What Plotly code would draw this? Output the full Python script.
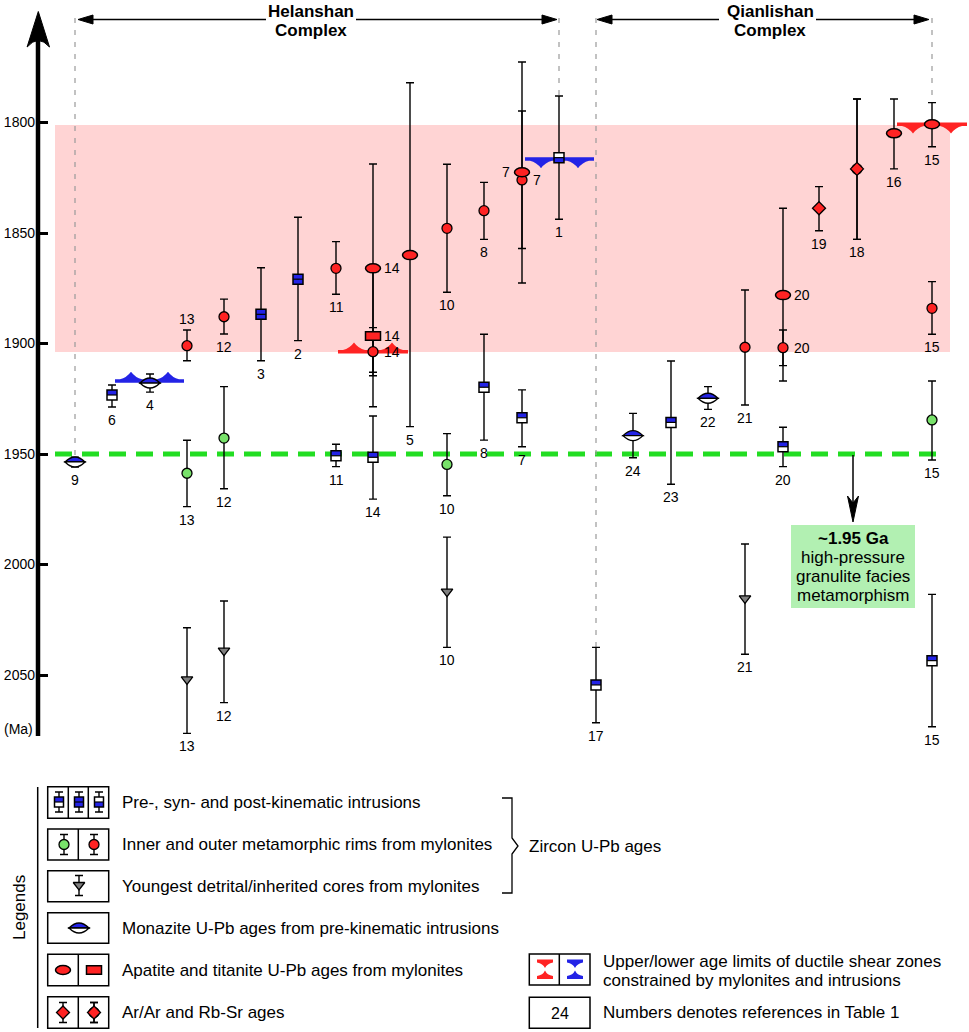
import plotly.graph_objects as go

W, H = 969, 1032
FONT = "Liberation Sans, Arial, sans-serif"

# the whole page is one age column: 1744.6 Ma at the top edge, 2211.5 Ma at the bottom
Y_TOP, Y_BOT = 1744.57, 2211.54
K = H / (Y_BOT - Y_TOP)          # pixels per Ma

RED = "#ff2323"
BLUE = "#2323e6"
GREEN = "#78e26a"
GREY = "#7f7f7f"

# ---------------- data (ages in Ma, x = sample column) ----------------
# zircon U-Pb ages of pre-, syn- and post-kinematic intrusions
intr_ref = ["6", "3", "2", "11", "14", "8", "7", "1", "17", "23", "20", "15"]
intr_x = [112, 261, 298, 336, 373, 484, 522, 559, 596, 671, 783, 932]
intr_age = [1923.3, 1886.8, 1870.9, 1950.8, 1951.5, 1919.8, 1933.6, 1815.9, 2054.5, 1935.7, 1946.7, 2043.5]
intr_lo = [1918.8, 1865.7, 1842.9, 1945.6, 1932.8, 1895.8, 1921.0, 1788.0, 2037.5, 1907.9, 1937.9, 2013.5]
intr_hi = [1928.7, 1907.8, 1898.7, 1955.7, 1970.4, 1943.7, 1946.7, 1843.8, 2071.6, 1963.7, 1955.7, 2073.4]
intr_kind = ["pre", "syn", "syn", "pre", "pre", "pre", "pre", "post", "pre", "pre", "pre", "pre"]

# outer metamorphic rims from mylonites
outer_ref = ["13", "12", "11", "14", "10", "8", "7", "21", "20", "15"]
outer_x = [187, 224, 336, 373, 447, 484, 522, 745, 783, 932]
outer_age = [1901.0, 1887.9, 1866.0, 1903.7, 1847.9, 1839.9, 1826.0, 1901.7, 1901.9, 1884.1]
outer_lo = [1893.9, 1879.9, 1853.9, 1892.8, 1818.9, 1827.1, 1794.8, 1875.8, 1893.9, 1872.0]
outer_hi = [1907.8, 1895.7, 1877.7, 1914.6, 1876.8, 1852.9, 1857.0, 1927.8, 1910.0, 1895.8]
outer_lab = ["above", "below", "below", "right", "below", "below", "right", "below", "right", "below"]

# inner metamorphic rims from mylonites
inner_ref = ["13", "12", "10", "15"]
inner_x = [187, 224, 447, 932]
inner_age = [1958.7, 1942.8, 1954.7, 1934.6]
inner_lo = [1943.8, 1919.5, 1940.8, 1917.0]
inner_hi = [1973.8, 1965.7, 1968.9, 1952.7]

# youngest detrital / inherited cores
core_ref = ["13", "12", "10", "21"]
core_x = [187, 224, 447, 745]
core_age = [2052.0, 2039.0, 2012.3, 2015.3]
core_lo = [2028.6, 2016.5, 1987.6, 1990.7]
core_hi = [2076.4, 2062.5, 2037.5, 2040.6]

# monazite U-Pb ages of pre-kinematic intrusions
mnz_ref = ["9", "4", "24", "22"]
mnz_x = [75, 150, 633, 708]
mnz_age = [1953.6, 1917.9, 1941.7, 1924.8]
mnz_lo = [1951.4, 1913.8, 1931.6, 1919.5]
mnz_hi = [1955.9, 1922.0, 1951.7, 1929.8]

# apatite U-Pb ages from mylonites
ap_ref = ["14", "5", "7", "20", "16", "15"]
ap_x = [373, 410, 522, 783, 894, 932]
ap_age = [1866.0, 1860.0, 1822.5, 1878.1, 1804.9, 1800.8]
ap_lo = [1818.8, 1782.0, 1772.6, 1838.8, 1789.4, 1791.0]
ap_hi = [1913.0, 1937.6, 1872.6, 1917.0, 1821.0, 1811.0]
ap_lab = ["right", "below", "left", "right", "below", "below"]

# titanite U-Pb ages from mylonites
ttn_ref = ["14"]
ttn_x = [373]
ttn_age = [1896.6]
ttn_lo = [1865.0]
ttn_hi = [1928.6]

# Ar/Ar and Rb-Sr ages
ar_ref, ar_x, ar_age, ar_lo, ar_hi = ["19"], [819], [1838.8], [1829.0], [1849.0]
rb_ref, rb_x, rb_age, rb_lo, rb_hi = ["18"], [857], [1821.0], [1789.4], [1852.9]

# age limits of the ductile shear zones
shear_x0 = [115, 338, 525, 897]
shear_x1 = [184, 408, 594, 967]
shear_age = [1917.0, 1903.7, 1816.5, 1800.8]
shear_col = ["blue", "red", "blue", "red"]
shear_dir = ["up", "up", "down", "down"]

# shear-zone age window and the ~1.95 Ga metamorphic event
band_age = [1801.1, 1903.8]
band_x = [55, 950]
hp_age = 1950

y_ticks = [1800, 1850, 1900, 1950, 2000, 2050]

# ---------------------------------------------------------------------
fig = go.Figure()
shapes = []
notes = []


def errbar(age, lo, hi):
    return dict(type="data", symmetric=False,
                array=[h - a for a, h in zip(age, hi)],
                arrayminus=[a - l for a, l in zip(age, lo)],
                color="black", thickness=1.4, width=4)


def marks(x, age, lo, hi, marker=None, yaxis="y"):
    if marker is None:
        marker = dict(size=1, color="rgba(0,0,0,0)")
    fig.add_trace(go.Scatter(x=x, y=age, mode="markers", marker=marker,
                             error_y=errbar(age, lo, hi), yaxis=yaxis,
                             hoverinfo="skip", showlegend=False))


def dot(color, symbol="circle", size=10):
    return dict(symbol=symbol, size=size, color=color, line=dict(color="black", width=1.3))


def split_square(x, y, kind, yref="y", k=K, hw=5, hh=5):
    top, bot = {"pre": (BLUE, "white"), "syn": (BLUE, BLUE), "post": ("white", BLUE)}[kind]
    d = hh / k
    base = dict(type="rect", xref="x", yref=yref, layer="above")
    shapes.append(dict(base, x0=x - hw, x1=x + hw, y0=y - d, y1=y, fillcolor=top, line=dict(width=0)))
    shapes.append(dict(base, x0=x - hw, x1=x + hw, y0=y, y1=y + d, fillcolor=bot, line=dict(width=0)))
    shapes.append(dict(type="line", xref="x", yref=yref, layer="above", x0=x - hw, x1=x + hw,
                       y0=y, y1=y, line=dict(color="black", width=1.2)))
    shapes.append(dict(base, x0=x - hw, x1=x + hw, y0=y - d, y1=y + d,
                       fillcolor="rgba(0,0,0,0)", line=dict(color="black", width=1.5)))


def lens(x, y, yref="y", k=K, hw=10, hh=5):
    # monazite: upper half blue, lower half white
    d = 2 * hh / k
    for sgn, col in ((-1, BLUE), (1, "white")):
        shapes.append(dict(type="path", xref="x", yref=yref, layer="above",
                           path=f"M{x - hw},{y} Q{x},{y + sgn * d} {x + hw},{y} Z",
                           fillcolor=col, line=dict(color="black", width=1.3)))


def ellipse(x, y, yref="y", k=K, hw=7.5, hh=4.5):
    shapes.append(dict(type="circle", xref="x", yref=yref, layer="above",
                       x0=x - hw, x1=x + hw, y0=y - hh / k, y1=y + hh / k,
                       fillcolor=RED, line=dict(color="black", width=1.5)))


def red_rect(x, y, yref="y", k=K, hw=7.5, hh=4.3):
    shapes.append(dict(type="rect", xref="x", yref=yref, layer="above",
                       x0=x - hw, x1=x + hw, y0=y - hh / k, y1=y + hh / k,
                       fillcolor=RED, line=dict(color="black", width=1.5)))


def shear(x0, x1, y, col, direction, k=K, th=3.5, hh=7.5, hw=11, inset=16):
    t, h = th / 2 / k, hh / k
    top, bot = y - t, y + t
    cs = [x0 + inset, x1 - inset]
    if direction == "up":
        edge, s = top, -1
        p = f"M{x0},{bot} L{x1},{bot} L{x1},{top}"
    else:
        edge, s = bot, 1
        p = f"M{x0},{top} L{x1},{top} L{x1},{bot}"
    for c in reversed(cs):
        p += (f" L{c + hw},{edge} Q{c + 0.4 * hw},{edge + s * 0.2 * h} {c},{edge + s * h}"
              f" Q{c - 0.4 * hw},{edge + s * 0.2 * h} {c - hw},{edge}")
    p += f" L{x0},{edge} Z"
    shapes.append(dict(type="path", xref="x", yref="y", layer="below", path=p,
                       fillcolor=col, line=dict(width=0)))


def label(x, y, s, where):
    d = dict(x=x, y=y, xref="x", yref="y", text=s, showarrow=False,
             font=dict(size=14, color="black", family=FONT), yanchor="middle")
    if where == "below":
        d.update(yshift=-13)
    elif where == "above":
        d.update(yshift=11)
    elif where == "right":
        d.update(xshift=9, xanchor="left")
    elif where == "left":
        d.update(xshift=-10, xanchor="right")
    notes.append(d)


def text(x, y, s, size=17, xanchor="center", **kw):
    notes.append(dict(x=x, y=y, xref="x", yref="y2", text=s, showarrow=False,
                      font=dict(size=size, color="black", family=FONT),
                      xanchor=xanchor, yanchor="middle", **kw))


def pix(kind, **kw):
    d = dict(type=kind, xref="x", yref="y2")
    d.update(kw)
    shapes.append(d)


def head(x, y, dx, dy, length=15, half=4.5):
    # filled arrow head with its tip at (x, y) pointing along (dx, dy)
    bx, by = x - dx * length, y - dy * length
    px, py = -dy * half, dx * half
    pix("path", path=f"M{x},{y} L{bx + px},{by + py} L{bx - px},{by - py} Z",
        fillcolor="black", line=dict(color="black", width=1))


# ---- background: age window of the shear zones, ~1.95 Ga event ----
shapes.append(dict(type="rect", xref="x", yref="y", layer="below", x0=band_x[0], x1=band_x[1],
                   y0=band_age[0], y1=band_age[1], fillcolor="#ffd4d4", line=dict(width=0)))
shapes.append(dict(type="line", xref="x", yref="y", layer="below", x0=band_x[0], x1=band_x[1] - 5,
                   y0=hp_age, y1=hp_age, line=dict(color="#22dd22", width=5, dash="17px,10px")))

# complex boundaries (dashed guides down to the bounding samples)
head_age = Y_TOP + 18 / K
for gx, gy in ((mnz_x[0], mnz_lo[0]), (559, intr_lo[7]), (596, intr_lo[8]), (932, ap_lo[5])):
    shapes.append(dict(type="line", xref="x", yref="y", layer="below", x0=gx, x1=gx,
                       y0=head_age, y1=gy, line=dict(color="#9a9a9a", width=1.2, dash="5px,7px")))

for x0, x1, y, c, dr in zip(shear_x0, shear_x1, shear_age, shear_col, shear_dir):
    shear(x0, x1, y, {"blue": BLUE, "red": RED}[c], dr)

# ---- error bars and markers ----
marks(intr_x, intr_age, intr_lo, intr_hi)
marks(mnz_x, mnz_age, mnz_lo, mnz_hi)
marks(ap_x, ap_age, ap_lo, ap_hi)
marks(ttn_x, ttn_age, ttn_lo, ttn_hi)
marks(inner_x, inner_age, inner_lo, inner_hi, dot(GREEN))
marks(outer_x, outer_age, outer_lo, outer_hi, dot(RED))
marks(core_x, core_age, core_lo, core_hi, dot(GREY, "triangle-down", 10))
marks(rb_x, rb_age, rb_lo, rb_hi, dot(RED, "circle", 10))
marks(rb_x, rb_age, rb_lo, rb_hi, dot(RED, "diamond", 10))
marks(ar_x, ar_age, ar_lo, ar_hi, dot(RED, "diamond", 10))

for x, a, kd in zip(intr_x, intr_age, intr_kind):
    split_square(x, a, kd)
for x, a in zip(mnz_x, mnz_age):
    lens(x, a)
for x, a in zip(ttn_x, ttn_age):
    red_rect(x, a)
for x, a in zip(ap_x, ap_age):
    ellipse(x, a)

# ---- reference numbers ----
for r, x, hi in zip(intr_ref, intr_x, intr_hi):
    label(x, hi, r, "below")
for r, x, hi in zip(mnz_ref, mnz_x, mnz_hi):
    label(x, hi, r, "below")
for r, x, hi in zip(inner_ref, inner_x, inner_hi):
    label(x, hi, r, "below")
for r, x, hi in zip(core_ref, core_x, core_hi):
    label(x, hi, r, "below")
for r, x, hi in zip(ar_ref + rb_ref, ar_x + rb_x, ar_hi + rb_hi):
    label(x, hi, r, "below")
for r, x, a, lo, hi, w in zip(outer_ref, outer_x, outer_age, outer_lo, outer_hi, outer_lab):
    label(x, {"below": hi, "above": lo}.get(w, a), r, w)
for r, x, a, hi, w in zip(ap_ref, ap_x, ap_age, ap_hi, ap_lab):
    label(x, hi if w == "below" else a, r, w)
for r, x, a in zip(ttn_ref, ttn_x, ttn_age):
    label(x, a, r, "right")

# ---- age axis arrow ----
pix("line", x0=38, x1=38, y0=736, y1=38, line=dict(color="black", width=4.5))
pix("path", path="M38.3,11.5 L49.5,47 Q38.3,34 27.1,47 Z", fillcolor="black", line=dict(color="black", width=1))
text(18, 729, "(Ma)", size=14)

# ---- complex headers ----
for x0, xa, xb, x1, cx, name in ((78, 266, 356, 557, 311, "Helanshan"),
                                 (597, 719, 816, 929, 770, "Qianlishan")):
    pix("line", x0=x0 + 10, x1=xa, y0=19.5, y1=19.5, line=dict(color="black", width=1.3))
    pix("line", x0=xb, x1=x1 - 10, y0=19.5, y1=19.5, line=dict(color="black", width=1.3))
    head(x0, 19.5, -1, 0)
    head(x1, 19.5, 1, 0)
    text(cx, 11, f"<b>{name}</b>", size=17)
    text(cx, 30, "<b>Complex</b>", size=17)

# ---- ~1.95 Ga note ----
pix("rect", x0=791, x1=915, y0=525, y1=608, fillcolor="#b2f0b2", line=dict(width=0))
pix("line", x0=853, x1=853, y0=455, y1=505, line=dict(color="black", width=1.5))
pix("path", path="M853,522 L858.5,496 L853,503 L847.5,496 Z", fillcolor="black", line=dict(color="black", width=1))
for yy, s in ((538, "<b>~1.95 Ga</b>"), (557.5, "high-pressure"), (576.5, "granulite facies"), (595.5, "metamorphism")):
    text(853, yy, s, size=17)

# ---- legend ----
BOX = dict(color="black", width=1.5)
pix("line", x0=37.7, x1=37.7, y0=787, y1=1028, line=BOX)
text(19, 908, "Legends", size=17, textangle=-90)
rows = [(786.7, 818.3, [68.3, 88.3]), (829, 860, [78.3]), (870.7, 901.7, []),
        (912.7, 943.3, []), (954.3, 985.7, [78.3]), (996.7, 1028.3, [78.3])]
for y0, y1, divs in rows:
    pix("rect", x0=47.7, x1=108.7, y0=y0, y1=y1, line=BOX)
    for dv in divs:
        pix("line", x0=dv, x1=dv, y0=y0, y1=y1, line=BOX)

legend_text = ["Pre-, syn- and post-kinematic intrusions",
               "Inner and outer metamorphic rims from mylonites",
               "Youngest detrital/inherited cores from mylonites",
               "Monazite U-Pb ages from pre-kinematic intrusions",
               "Apatite and titanite U-Pb ages from mylonites",
               "Ar/Ar and Rb-Sr ages"]
for (y0, y1, _), s in zip(rows, legend_text):
    text(120, (y0 + y1) / 2, s, xanchor="left")

# legend glyphs, drawn on the pixel overlay axis
marks([59, 79, 99], [802] * 3, [792] * 3, [812] * 3, yaxis="y2")
marks([64], [844.5], [834.5], [854.5], dot(GREEN), yaxis="y2")
marks([94], [844.5], [834.5], [854.5], dot(RED), yaxis="y2")
marks([79], [885], [875.5], [895.5], dot(GREY, "triangle-down", 10), yaxis="y2")
marks([94], [1012.5], [1002.5], [1022.5], dot(RED, "circle", 10), yaxis="y2")
marks([63, 94], [1012.5] * 2, [1002.5] * 2, [1022.5] * 2, dot(RED, "diamond", 10), yaxis="y2")
for gx, kd in zip([59, 79, 99], ["pre", "syn", "post"]):
    split_square(gx, 802, kd, yref="y2", k=1, hw=4.5, hh=5)
lens(79, 928, yref="y2", k=1)
ellipse(63, 970, yref="y2", k=1)
red_rect(94, 970, yref="y2", k=1)

# bracket for zircon ages
pix("path", path="M502,798 L512,798 L512,838 L518,846 L512,854 L512,893 L502,893",
    line=dict(color="black", width=1.3))
text(527, 846, "Zircon U-Pb ages", xanchor="left")

# shear-zone limit glyphs and reference-number box
for y0, y1, divs in ((954, 985, [559.3]), (997.3, 1028.3, [])):
    pix("rect", x0=529.3, x1=590, y0=y0, y1=y1, line=BOX)
    for dv in divs:
        pix("line", x0=dv, x1=dv, y0=y0, y1=y1, line=BOX)
for cx, col in ((545, RED), (575, BLUE)):
    pix("path", line=dict(width=0), fillcolor=col,
        path=f"M{cx - 8},959.5 L{cx + 8},959.5 L{cx + 8},962.5 Q{cx + 2},963.5 {cx},968 "
             f"Q{cx - 2},963.5 {cx - 8},962.5 Z")
    pix("path", line=dict(width=0), fillcolor=col,
        path=f"M{cx - 8},979 L{cx + 8},979 L{cx + 8},976 Q{cx + 2},975 {cx},970.5 "
             f"Q{cx - 2},975 {cx - 8},976 Z")
text(560, 1013, "24", size=16)
text(601, 961, "Upper/lower age limits of ductile shear zones", xanchor="left")
text(601, 980, "constrained by mylonites and intrusions", xanchor="left")
text(601, 1012, "Numbers denotes references in Table 1", xanchor="left")

fig.update_layout(
    width=W, height=H,
    margin=dict(l=0, r=0, t=0, b=0),
    paper_bgcolor="white", plot_bgcolor="white",
    showlegend=False, hovermode=False,
    font=dict(family=FONT, size=14, color="black"),
    xaxis=dict(range=[0, W], visible=False, fixedrange=True),
    yaxis=dict(range=[Y_BOT, Y_TOP], anchor="free", position=38 / W, fixedrange=True,
               tickvals=y_ticks, ticks="inside", ticklen=9, tickwidth=3, tickcolor="black",
               showline=False, showgrid=False, zeroline=False, automargin=False,
               ticklabelstandoff=3, tickfont=dict(size=14, family=FONT, color="black")),
    yaxis2=dict(range=[H, 0], overlaying="y", visible=False, fixedrange=True),
    shapes=shapes,
    annotations=notes,
)

# the page's default 8px body margin would shift the fixed-size figure
fig.write_html("out.html", config={"displayModeBar": False},
               post_script="document.body.style.margin = '0';")
